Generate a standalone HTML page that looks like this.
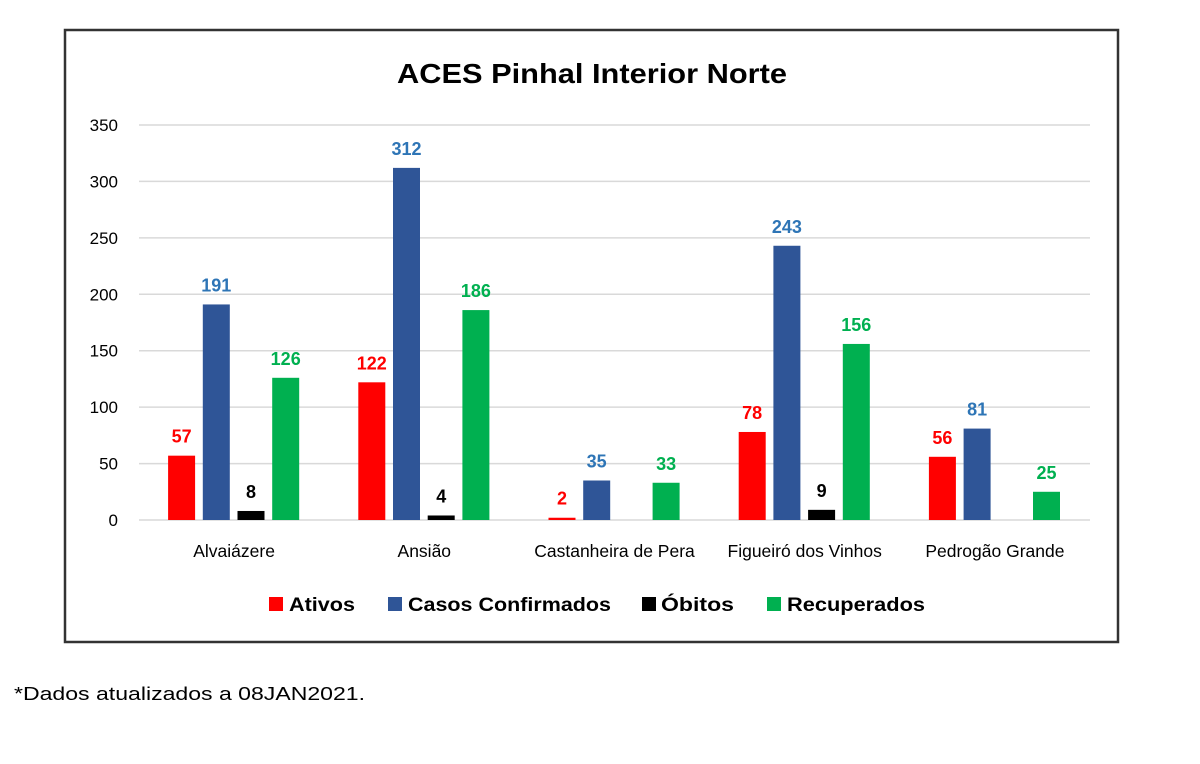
<!DOCTYPE html>
<html><head><meta charset="utf-8"><style>
body{margin:0;background:#fff;width:1200px;height:759px;overflow:hidden;font-family:"Liberation Sans",sans-serif}
</style></head><body>
<svg width="1200" height="759" id="chart" font-family="Liberation Sans, sans-serif">
<rect x="65" y="30" width="1053" height="612" fill="#fff" stroke="#333" stroke-width="2.5"/>
<text x="397" y="83" textLength="390" lengthAdjust="spacingAndGlyphs" font-size="28" font-weight="bold" fill="#000">ACES Pinhal Interior Norte</text>
<g id="grid"></g><g id="bars"></g><g id="labels"></g>
<g font-size="19" font-weight="bold">
<rect x="269" y="597" width="14" height="14" fill="#ff0000"/><text x="289" y="611" textLength="66" lengthAdjust="spacingAndGlyphs">Ativos</text>
<rect x="388" y="597" width="14" height="14" fill="#2f5597"/><text x="408" y="611" textLength="203" lengthAdjust="spacingAndGlyphs">Casos Confirmados</text>
<rect x="642" y="597" width="14" height="14" fill="#000"/><text x="661" y="611" textLength="73" lengthAdjust="spacingAndGlyphs">Óbitos</text>
<rect x="767" y="597" width="14" height="14" fill="#00b050"/><text x="787" y="611" textLength="138" lengthAdjust="spacingAndGlyphs">Recuperados</text>
</g>
<text x="14" y="700" font-size="18" textLength="351" lengthAdjust="spacingAndGlyphs" fill="#000">*Dados atualizados a 08JAN2021.</text>
</svg>
<script>
const categories=["Alvaiázere","Ansião","Castanheira de Pera","Figueiró dos Vinhos","Pedrogão Grande"];
const ativos=[57,122,2,78,56];
const casos=[191,312,35,243,81];
const obitos=[8,4,0,9,0];
const recuperados=[126,186,33,156,25];
const ticks=[0,50,100,150,200,250,300,350];
const NS="http://www.w3.org/2000/svg";
const x0=139,x1=1090,y0=520,yTop=125,maxV=350;
const y=v=>y0-(v/maxV)*(y0-yTop);
const bw=(x1-x0)/categories.length;
const cx=i=>x0+bw*(i+0.5);
function mk(t,a){const e=document.createElementNS(NS,t);for(const k in a)e.setAttribute(k,a[k]);return e;}
const grid=document.getElementById('grid');
ticks.forEach(t=>{
 const l=mk('line',{x1:x0,x2:x1,y1:y(t),y2:y(t),stroke:'#d9d9d9','stroke-width':1.5});
 
 
 grid.appendChild(l);
 const tx=mk('text',{x:118,y:y(t)+6,'text-anchor':'end','font-size':17,fill:'#000'});
 
 
 tx.textContent=t;grid.appendChild(tx);
});
const series=[[ativos,'#ff0000','#ff0000','ativos'],[casos,'#2f5597','#2e75b6','casos'],[obitos,'#000','#000','obitos'],[recuperados,'#00b050','#00b050','recuperados']];
const bars=document.getElementById('bars'),labels=document.getElementById('labels');
categories.forEach((c,i)=>{
 series.forEach((s,j)=>{
  const v=s[0][i];const bx=cx(i)-52.5+j*34.7-13.5;
  const r=mk('rect',{x:bx,y:y(v),width:27,height:y0-y(v),fill:s[1]});
  
  
  bars.appendChild(r);
  if(v>0){const t=mk('text',{x:bx+13.5,y:y(v)-13,'text-anchor':'middle','font-size':18,'font-weight':'bold',fill:s[2]});
   
   
   t.textContent=v;labels.appendChild(t);}
 });
 const t=mk('text',{x:cx(i),y:557,'text-anchor':'middle','font-size':17.5,fill:'#000'});
 
 
 t.textContent=c;labels.appendChild(t);
});
</script>
</body></html>
